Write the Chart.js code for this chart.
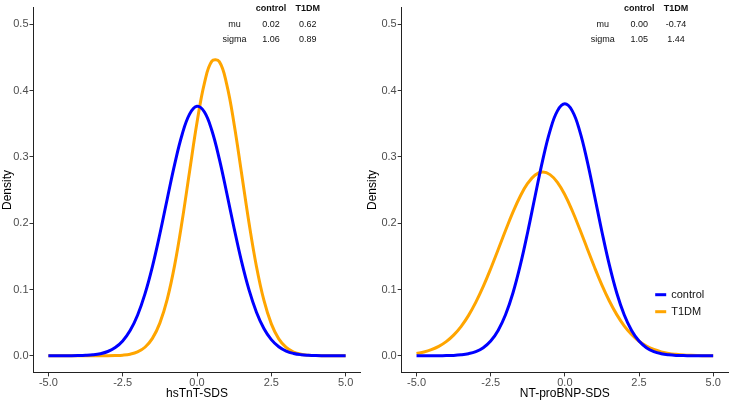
<!DOCTYPE html>
<html>
<head>
<meta charset="utf-8">
<script src="https://cdn.jsdelivr.net/npm/chart.js@4/dist/chart.umd.min.js"></script>
<style>
html,body{margin:0;padding:0;background:#fff;}
#wrap{position:relative;width:730px;height:401px;}
canvas{position:absolute;top:0;}
</style>
</head>
<body>
<div id="wrap">
<canvas id="c1" width="365" height="401" style="left:0px"></canvas>
<canvas id="c2" width="365" height="401" style="left:365px"></canvas>
</div>
<script>
// ---- data ----
const xGrid = [-5,-4.75,-4.5,-4.25,-4,-3.75,-3.5,-3.25,-3,-2.75,-2.5,-2.25,-2,-1.75,-1.5,-1.25,-1,-0.75,-0.5,-0.25,0,0.25,0.5,0.75,1,1.25,1.5,1.75,2,2.25,2.5,2.75,3,3.25,3.5,3.75,4,4.25,4.5,4.75,5];
const seriesNames = ['control','T1DM'];
const hsTnT_control = [0.0000,0.0000,0.0000,0.0001,0.0003,0.0007,0.0015,0.0032,0.0065,0.0124,0.0223,0.0380,0.0612,0.0934,0.1346,0.1836,0.2369,0.2891,0.3337,0.3644,0.3763,0.3676,0.3397,0.2969,0.2455,0.1920,0.1420,0.0994,0.0658,0.0412,0.0244,0.0137,0.0072,0.0036,0.0017,0.0008,0.0003,0.0001,0.0000,0.0000,0.0000];
const hsTnT_T1DM = [0.0000,0.0000,0.0000,0.0000,0.0000,0.0000,0.0000,0.0000,0.0001,0.0004,0.0010,0.0025,0.0059,0.0129,0.0263,0.0493,0.0855,0.1371,0.2031,0.2780,0.3517,0.4111,0.4442,0.4435,0.4092,0.3489,0.2749,0.2002,0.1347,0.0838,0.0482,0.0256,0.0126,0.0057,0.0024,0.0009,0.0003,0.0001,0.0000,0.0000,0.0000];
const ntpro_control = [0.0000,0.0000,0.0000,0.0001,0.0003,0.0006,0.0015,0.0032,0.0064,0.0123,0.0223,0.0383,0.0619,0.0947,0.1370,0.1871,0.2414,0.2944,0.3392,0.3693,0.3800,0.3693,0.3392,0.2944,0.2414,0.1871,0.1370,0.0947,0.0619,0.0383,0.0223,0.0123,0.0064,0.0032,0.0015,0.0006,0.0003,0.0001,0.0000,0.0000,0.0000];
const ntpro_T1DM = [0.0035,0.0057,0.0092,0.0142,0.0214,0.0312,0.0441,0.0606,0.0809,0.1046,0.1313,0.1599,0.1889,0.2166,0.2410,0.2602,0.2726,0.2770,0.2732,0.2615,0.2428,0.2187,0.1912,0.1622,0.1335,0.1066,0.0826,0.0621,0.0453,0.0321,0.0220,0.0147,0.0095,0.0060,0.0036,0.0022,0.0012,0.0007,0.0004,0.0002,0.0001];
const xTicks = [-5, -2.5, 0, 2.5, 5];
const yTicks = [0, 0.1, 0.2, 0.3, 0.4, 0.5];
const tableRows = ['mu','sigma'];
const hsTnT_table = [['0.02','0.62'],['1.06','0.89']];
const ntpro_table = [['0.00','-0.74'],['1.05','1.44']];
const xTitles = ['hsTnT-SDS','NT-proBNP-SDS'];
const yTitle = 'Density';
// -------------------------------------

const FONT = "'Liberation Sans', Arial, Helvetica, sans-serif";
Chart.defaults.font.family = FONT;
const colors = ['#0000FF', '#FFA500'];

function tablePlugin(rows) {
  return {
    id: 'statsTable',
    afterDraw(chart) {
      const ctx = chart.ctx, a = chart.chartArea;
      const cols = [a.left + 201, a.left + 237.6, a.left + 274.2];
      const ys = [a.top + 1.2, a.top + 16.7, a.top + 31.7];
      ctx.save();
      ctx.textAlign = 'center';
      ctx.textBaseline = 'middle';
      ctx.fillStyle = '#111';
      ctx.font = "bold 9px " + FONT;
      seriesNames.forEach((n, i) => ctx.fillText(n, cols[i + 1], ys[0]));
      ctx.font = "9px " + FONT;
      tableRows.forEach((r, j) => {
        ctx.fillText(r, cols[0], ys[j + 1]);
        rows[j].forEach((v, i) => ctx.fillText(v, cols[i + 1], ys[j + 1]));
      });
      ctx.restore();
    }
  };
}

const legendPlugin = {
  id: 'innerLegend',
  afterDraw(chart) {
    const ctx = chart.ctx, a = chart.chartArea;
    const x0 = a.left + 253.5, y0 = 294.7;
    ctx.save();
    chart.data.datasets.forEach((ds, i) => {
      const y = y0 + i * 17;
      ctx.strokeStyle = ds.borderColor;
      ctx.lineWidth = 3;
      ctx.beginPath();
      ctx.moveTo(x0, y);
      ctx.lineTo(x0 + 11, y);
      ctx.stroke();
      ctx.fillStyle = '#111';
      ctx.font = "11px " + FONT;
      ctx.textAlign = 'left';
      ctx.textBaseline = 'middle';
      ctx.fillText(ds.label, x0 + 16, y);
    });
    ctx.restore();
  }
};

function makeChart(id, vals, xTitle, yWidth, padRight, table, withLegend) {
  const datasets = vals.map((arr, i) => ({
    label: seriesNames[i],
    data: xGrid.map((x, k) => ({x: x, y: arr[k]})),
    borderColor: colors[i],
    backgroundColor: colors[i],
    borderWidth: 3,
    pointRadius: 0,
    fill: false,
    tension: 0.4,
    borderCapStyle: 'butt',
    borderJoinStyle: 'round'
  }));
  const plugins = [tablePlugin(table)];
  if (withLegend) plugins.push(legendPlugin);
  return new Chart(document.getElementById(id), {
    type: 'line',
    data: {datasets},
    plugins,
    options: {
      responsive: false,
      animation: false,
      devicePixelRatio: 1,
      layout: {padding: {left: 0, right: padRight, top: 3.9, bottom: 0}},
      plugins: {legend: {display: false}, tooltip: {enabled: false}},
      scales: {
        x: {
          type: 'linear', min: -5.5, max: 5.5,
          afterBuildTicks: s => { s.ticks = xTicks.map(v => ({value: v})); },
          afterFit: s => { s.height = 28.6; },
          grid: {display: true, drawOnChartArea: false, drawTicks: true, tickLength: 4, color: '#333333'},
          border: {display: true, color: '#222222', width: 1},
          ticks: {padding: 0, color: '#4D4D4D', font: {size: 11}, maxRotation: 0, autoSkip: false,
                  callback: v => Number(v).toFixed(1)},
          title: {display: true, text: xTitle, color: '#000', font: {size: 12}, padding: 0}
        },
        y: {
          type: 'linear', min: -0.025, max: 0.525,
          afterBuildTicks: s => { s.ticks = yTicks.map(v => ({value: v})); },
          afterFit: s => { s.width = yWidth; },
          grid: {display: true, drawOnChartArea: false, drawTicks: true, tickLength: 4, color: '#333333'},
          border: {display: true, color: '#222222', width: 1},
          ticks: {padding: 1, color: '#4D4D4D', font: {size: 11}, autoSkip: false,
                  callback: v => Number(v).toFixed(1)},
          title: {display: true, text: yTitle, color: '#000', font: {size: 12}, padding: 0}
        }
      }
    }
  });
}

makeChart('c1', [hsTnT_control, hsTnT_T1DM], xTitles[0], 33.5, 4.5, hsTnT_table, false);
makeChart('c2', [ntpro_control, ntpro_T1DM], xTitles[1], 36.7, 2, ntpro_table, true);
</script>
</body>
</html>
